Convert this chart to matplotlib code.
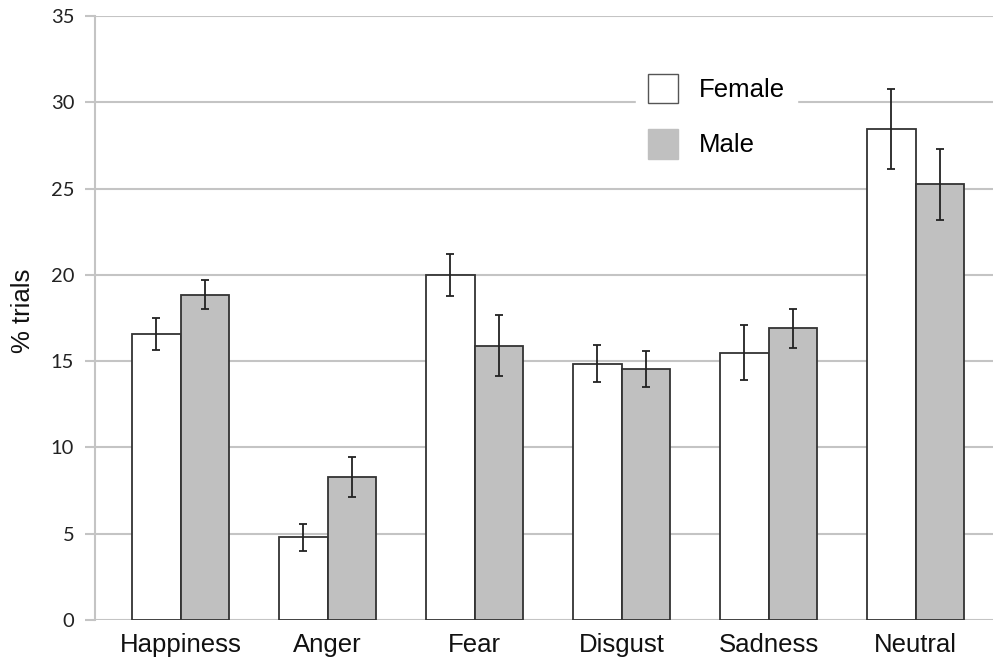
import matplotlib
matplotlib.use("Agg")
import matplotlib.pyplot as plt
import numpy as np

categories = ["Happiness", "Anger", "Fear", "Disgust", "Sadness", "Neutral"]
female = [16.6, 4.8, 20.0, 14.85, 15.5, 28.45]
female_err = [0.93, 0.78, 1.2, 1.06, 1.57, 2.3]
male = [18.85, 8.3, 15.9, 14.55, 16.9, 25.25]
male_err = [0.85, 1.16, 1.76, 1.06, 1.14, 2.05]
series_names = ["Female", "Male"]
yticks = [0, 5, 10, 15, 20, 25, 30, 35]

fig = plt.figure(figsize=(9.93, 6.57), dpi=100)
ax = fig.add_axes([0.0957, 0.0563, 0.9043, 0.9193])

x = np.arange(len(categories))
w = 0.33
bf = ax.bar(x - w / 2, female, w, color="white", edgecolor="#333333", linewidth=1.3, zorder=3,
            label=series_names[0])
bm = ax.bar(x + w / 2, male, w, color="#c0c0c0", edgecolor="#333333", linewidth=1.3, zorder=3,
            label=series_names[1])
ax.errorbar(x - w / 2, female, yerr=female_err, fmt="none", ecolor="#222222", elinewidth=1.3,
            capsize=3, capthick=1.3, zorder=4)
ax.errorbar(x + w / 2, male, yerr=male_err, fmt="none", ecolor="#222222", elinewidth=1.3,
            capsize=3, capthick=1.3, zorder=4)

ax.set_xlim(-0.582, 5.527)
ax.set_ylim(0, 35)
ax.set_yticks(yticks)
ax.set_yticklabels([str(t) for t in yticks], fontsize=14.5, family="Lato", color="#222222")
ax.yaxis.grid(True, color="#c4c4c4", linewidth=1.5, zorder=0)
ax.set_axisbelow(True)
ax.tick_params(axis="y", length=7, width=1.5, color="#c4c4c4", pad=8)
ax.set_xticks(x)
ax.set_xticklabels(categories, fontsize=18.5, family="Liberation Sans", color="#111111")
ax.tick_params(axis="x", length=0, pad=9)
for s in ["top", "right", "bottom"]:
    ax.spines[s].set_visible(False)
ax.spines["left"].set_color("#c4c4c4")
ax.spines["left"].set_linewidth(1.5)
ax.set_ylabel("% trials", fontsize=18.5, family="Liberation Sans", color="#111111")
ax.yaxis.set_label_coords((35 - 95) / 898, (620 - 311) / 604)

leg = ax.legend(handles=[bf, bm], loc="upper left", bbox_to_anchor=(636 / 993, 1 - 62 / 657),
                bbox_transform=fig.transFigure, frameon=True, fancybox=False,
                prop={"family": "Liberation Sans", "size": 18.5},
                handlelength=1.2, handleheight=1.4, labelspacing=1.0, handletextpad=0.8,
                borderpad=0.45, borderaxespad=0)
leg.get_frame().set_edgecolor("white")
leg.get_frame().set_facecolor("white")
leg.get_frame().set_alpha(1)
leg.set_zorder(5)
for h in leg.legend_handles:
    h.set_linewidth(1.0)
leg.legend_handles[1].set_edgecolor("#c0c0c0")
leg.legend_handles[0].set_edgecolor("#555555")

fig.savefig("out.png", dpi=100)
